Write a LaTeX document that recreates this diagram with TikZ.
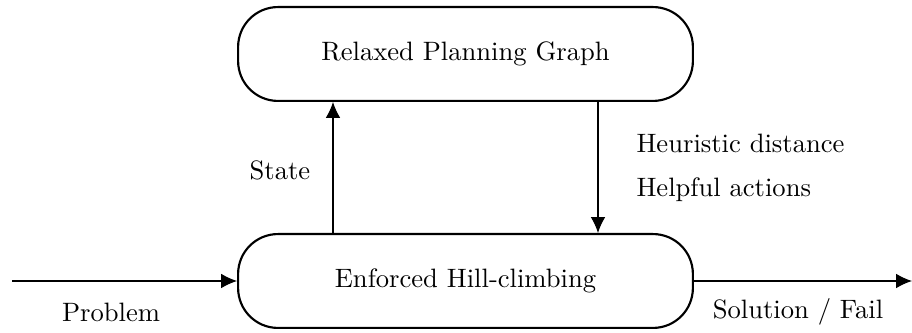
\documentclass[tikz,border=0pt]{standalone}
\usetikzlibrary{arrows.meta}
\begin{document}
\begin{tikzpicture}[x=0.376pt,y=-0.376pt,
  module/.style={draw,line width=0.8pt,rounded corners=15pt,minimum width=171pt,minimum height=35.3pt,inner sep=0pt},
  flow/.style={line width=0.4pt,-{Latex[length=6pt,width=5.5pt]}},
  lbl/.style={inner sep=0pt,font=\normalsize}]
  \useasboundingbox (0,0) rectangle (912,333);
  % the two modules
  \node[module] (rpg) at (465.5,54) {Relaxed Planning Graph};
  \node[module] (ehc) at (465.5,281) {Enforced Hill-climbing};
  % free ends of the input and output arrows
  \coordinate (in) at (12,281);
  \coordinate (out) at (912,281);
  \draw[flow] (in) -- (ehc.west);
  \draw[flow] (ehc.east) -- (out);
  % exchange between the modules
  \draw[flow] (ehc.north -| 333,0) -- (rpg.south -| 333,0);
  \draw[flow] (rpg.south -| 598,0) -- (ehc.north -| 598,0);
  % labels
  \node[lbl] (lproblem) at (111,312) {Problem};
  \node[lbl] (lsol) at (798,312) {Solution / Fail};
  \node[lbl] (lstate) at (280,170) {State};
  \node[lbl,anchor=west] (lheur) at (636,143) {Heuristic distance};
  \node[lbl,anchor=west] (lhelp) at (636,190) {Helpful actions};
\end{tikzpicture}
\end{document}
